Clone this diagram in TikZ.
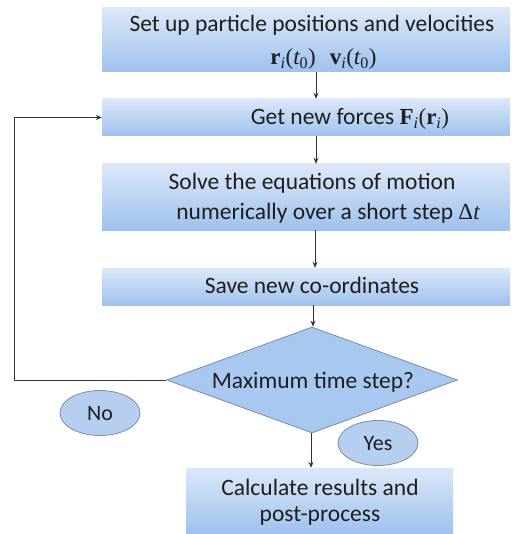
\documentclass[tikz,border=0pt]{standalone}
\usepackage{fontspec}
\setmainfont{Carlito}
\newfontfamily\mathserif{Liberation Serif}
\usetikzlibrary{shapes.geometric,arrows.meta}
\definecolor{boxtop}{HTML}{DCE8F8}
\definecolor{boxbot}{HTML}{9FC1EE}
\definecolor{dfill}{HTML}{A9C8EF}
\definecolor{efill}{HTML}{B6CEEF}
\definecolor{edgec}{HTML}{7A8DA8}
\definecolor{linec}{HTML}{333333}
\definecolor{txt}{HTML}{1E1E1E}
\tikzset{
  stepbox/.style={rectangle, draw=none, top color=boxtop, bottom color=boxbot, inner sep=0pt},
  lbl/.style={text=txt, font=\fontsize{23.5}{28}\selectfont, inner sep=0pt, anchor=base},
  arr/.style={draw=linec, line width=1pt, -{Stealth[length=6pt,width=5pt]}},
  decision/.style={diamond, draw=edgec, line width=0.8pt, fill=dfill, inner sep=0pt, minimum width=291pt, minimum height=106pt},
  answer/.style={ellipse, draw=edgec, line width=0.8pt, fill=efill, inner sep=0pt, minimum width=80pt, minimum height=45pt},
  anslbl/.style={text=txt, font=\fontsize{22}{26}\selectfont, inner sep=0pt, anchor=base}
}
\newcommand{\vb}[1]{{\mathserif\bfseries #1}}
\newcommand{\vi}[1]{{\mathserif\itshape #1}}
\newcommand{\ms}[1]{{\mathserif\fontsize{23}{26}\selectfont #1}}
\begin{document}
\begin{tikzpicture}[x=1pt,y=-1pt]
\useasboundingbox (0,0) rectangle (512,534);
% boxes
\node[stepbox, minimum width=408pt, minimum height=64pt] (b1) at (306,40) {};
\node[stepbox, minimum width=408pt, minimum height=37pt] (b2) at (306,117.5) {};
\node[stepbox, minimum width=408pt, minimum height=66pt] (b3) at (306,197) {};
\node[stepbox, minimum width=408pt, minimum height=37pt] (b4) at (306,286.5) {};
\node[stepbox, minimum width=267pt, minimum height=66pt] (b5) at (319.5,501) {};
\node[decision] (d) at (312,380) {};
% texts
\node[lbl] (t1a) at (312,32) {Set up particle positions and velocities};
\node[lbl] (t1b) at (323.5,65) {\ms{\vb{r}\textsubscript{\vi{i}}(\vi{t}\textsubscript{0})\hspace{14pt}\vb{v}\textsubscript{\vi{i}}(\vi{t}\textsubscript{0})}};
\node[lbl] (t2) at (350,125) {Get new forces \ms{\vb{F}\textsubscript{\vi{i}}(\vb{r}\textsubscript{\vi{i}})}};
\node[lbl] (t3a) at (312,190) {Solve the equations of motion};
\node[lbl] (t3b) at (328,220) {numerically over a short step \ms{Δ\vi{t}}};
\node[lbl] (t4) at (312,293) {Save new co-ordinates};
\node[lbl] (td) at (313,388) {Maximum time step?};
\node[lbl] (t5a) at (320,495) {Calculate results and};
\node[lbl] (t5b) at (320,521) {post-process};
% answers
\node[answer] (no) at (100,413) {};
\node[anslbl] (tno) at (100,420.5) {No};
\node[answer] (yes) at (378,443) {};
\node[anslbl] (tyes) at (378,450.5) {Yes};
% connectors
\coordinate (fb) at (14,380);
\draw[arr] ([xshift=10pt]b1.south) -- ([xshift=10pt]b2.north);
\draw[arr] ([xshift=10pt]b2.south) -- ([xshift=10pt]b3.north);
\draw[arr] ([xshift=9pt]b3.south) -- ([xshift=9pt]b4.north);
\draw[arr] ([xshift=7pt]b4.south) -- ([xshift=1pt]d.north);
\draw[arr] ([xshift=-1pt]d.south) -- ([xshift=-8.5pt]b5.north);
\draw[arr] (d.west) -- (fb) |- (b2.west);
\end{tikzpicture}
\end{document}
